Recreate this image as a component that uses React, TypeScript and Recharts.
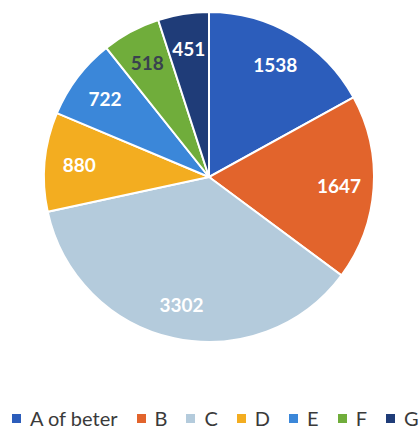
import { Cell, Pie, PieChart } from "recharts";

const categories = ["A of beter", "B", "C", "D", "E", "F", "G"];
const values = [1538, 1647, 3302, 880, 722, 518, 451];
const colors = ["#2c5dbb", "#e2642c", "#b4cbdc", "#f3ad20", "#3b87d9", "#70ad3b", "#1f3c78"];
const labelColors = ["#fff", "#fff", "#fff", "#fff", "#fff", "#39424f", "#fff"];

const data = categories.map((name, i) => ({ name, value: values[i] }));
const RADIAN = Math.PI / 180;

function renderLabel(props: any) {
  const { cx, cy, midAngle, outerRadius, index, value } = props;
  const r = outerRadius * 0.79;
  const x = cx + r * Math.cos(-midAngle * RADIAN);
  const y = cy + r * Math.sin(-midAngle * RADIAN);
  return (
    <text
      x={x}
      y={y}
      fill={labelColors[index]}
      textAnchor="middle"
      dominantBaseline="central"
      fontFamily="Lato, 'Open Sans', sans-serif"
      fontWeight={700}
      fontSize={19}
    >
      {value}
    </text>
  );
}

export default function App() {
  return (
    <div style={{ position: "absolute", left: 0, top: 0, width: 420, height: 432, background: "#fff" }}>
      <PieChart width={420} height={400} margin={{ top: 0, right: 0, bottom: 0, left: 0 }}>
        <Pie
          data={data}
          dataKey="value"
          cx={209}
          cy={177}
          outerRadius={165}
          startAngle={90}
          endAngle={-270}
          stroke="#fff"
          strokeWidth={2}
          label={renderLabel}
          labelLine={false}
          isAnimationActive={false}
        >
          {data.map((d, i) => (
            <Cell key={d.name} fill={colors[i]} />
          ))}
        </Pie>
      </PieChart>
      <div
        style={{
          position: "absolute",
          top: 406,
          left: 12,
          display: "flex",
          alignItems: "center",
          fontFamily: "Lato, 'Open Sans', sans-serif",
          fontSize: 20,
          lineHeight: "24px",
          color: "#3a3a3a",
          whiteSpace: "nowrap",
        }}
      >
        {categories.map((c, i) => (
          <span key={c} style={{ display: "flex", alignItems: "center", marginRight: i === categories.length - 1 ? 0 : 19 }}>
            <span style={{ width: 9, height: 9, background: colors[i], marginRight: 9, display: "inline-block" }} />
            {c}
          </span>
        ))}
      </div>
    </div>
  );
}
